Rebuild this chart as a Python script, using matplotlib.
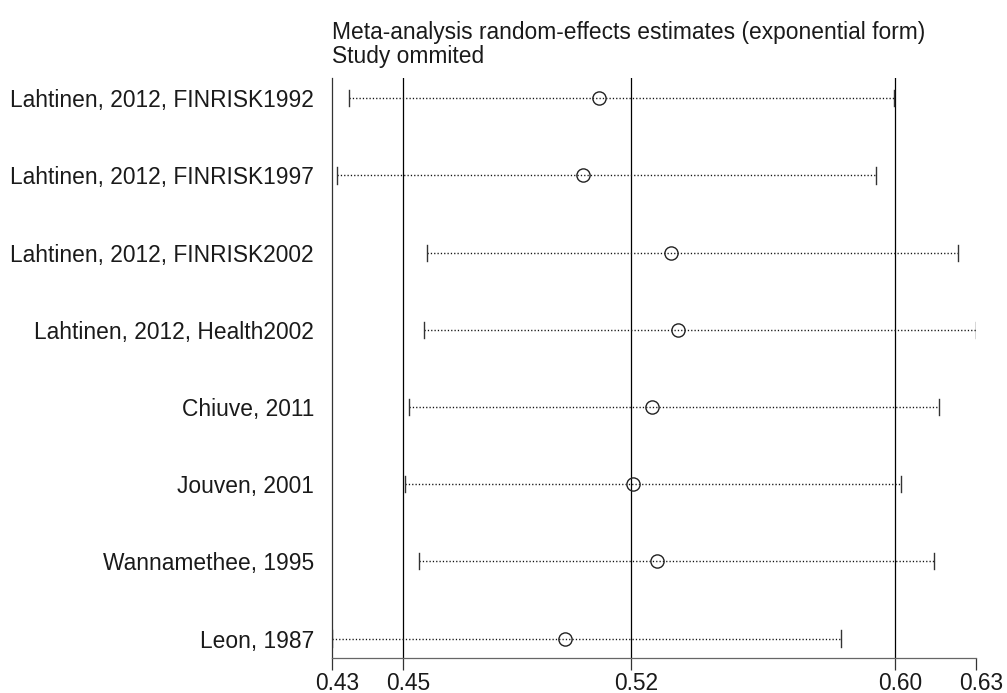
import matplotlib
matplotlib.use('Agg')
import matplotlib.pyplot as plt
import matplotlib.transforms as mtransforms

plt.rcParams['font.family'] = ['Liberation Sans', 'DejaVu Sans']

studies = ['Lahtinen, 2012, FINRISK1992', 'Lahtinen, 2012, FINRISK1997',
           'Lahtinen, 2012, FINRISK2002', 'Lahtinen, 2012, Health2002',
           'Chiuve, 2011', 'Jouven, 2001', 'Wannamethee, 1995', 'Leon, 1987']
estimate = [0.5104, 0.5055, 0.5329, 0.5349, 0.5270, 0.5210, 0.5285, 0.5000]
ci_low = [0.4328, 0.4289, 0.4568, 0.4560, 0.4514, 0.4502, 0.4545, 0.4274]
ci_high = [0.6022, 0.5966, 0.6221, 0.6277, 0.6161, 0.6044, 0.6146, 0.5858]

# overall estimate + CI (the reference lines), and the min/max bounds
ref_lines = [0.4496, 0.5203, 0.6026]
x_min, x_max = 0.4274, 0.6277
tick_vals = [x_min] + ref_lines + [x_max]

fs = 16.4

fig = plt.figure(figsize=(10.07, 6.93), dpi=100)
ax = fig.add_axes([332/1007, 1-658/693, (976-332)/1007, (658-78)/693])

n = len(studies)
ypos = list(range(n, 0, -1))

for x in ref_lines:
    ax.axvline(x, color='black', lw=0.9, zorder=1)

for i in range(n):
    y = ypos[i]
    ax.plot([ci_low[i], ci_high[i]], [y, y], color='#111111', lw=1.0,
            linestyle=(0, (0.9, 1.5)), zorder=2)
    ax.plot([ci_low[i], ci_low[i]], [y-0.105, y+0.105], color='#333333', lw=1.0, zorder=2)
    ax.plot([ci_high[i], ci_high[i]], [y-0.105, y+0.105], color='#333333', lw=1.0, zorder=2)
ax.plot(estimate, ypos, 'o', ms=9.5, mfc='none', mec='#222222', mew=1.0, zorder=3)

ax.set_xlim(x_min, x_max)
ax.set_ylim(0.748, n + 0.263)

ax.spines['top'].set_visible(False)
ax.spines['right'].set_visible(False)
ax.spines['left'].set_color('#333333')
ax.spines['bottom'].set_color('#666666')
ax.spines['left'].set_linewidth(0.9)
ax.spines['bottom'].set_linewidth(0.9)

ax.set_xticks(tick_vals)
ax.set_xticklabels(['%.2f' % v for v in tick_vals])
ax.tick_params(axis='x', direction='out', length=8.6, width=0.9, color='#333333',
               labelsize=fs, pad=1.5, labelcolor='#1a1a1a')
offset = mtransforms.ScaledTranslation(5/100, 0, fig.dpi_scale_trans)
for lab in ax.get_xticklabels():
    lab.set_transform(lab.get_transform() + offset)

ax.set_yticks(ypos)
ax.set_yticklabels(studies)
ax.tick_params(axis='y', length=0, pad=13, labelsize=fs, labelcolor='#1a1a1a')

fig.text(332/1007, 1-33/693, 'Meta-analysis random-effects estimates (exponential form)',
         fontsize=fs, color='#1a1a1a', va='center', ha='left')
fig.text(332/1007, 1-57/693, 'Study ommited', fontsize=fs, color='#1a1a1a',
         va='center', ha='left')

fig.savefig('out.png', dpi=100)
